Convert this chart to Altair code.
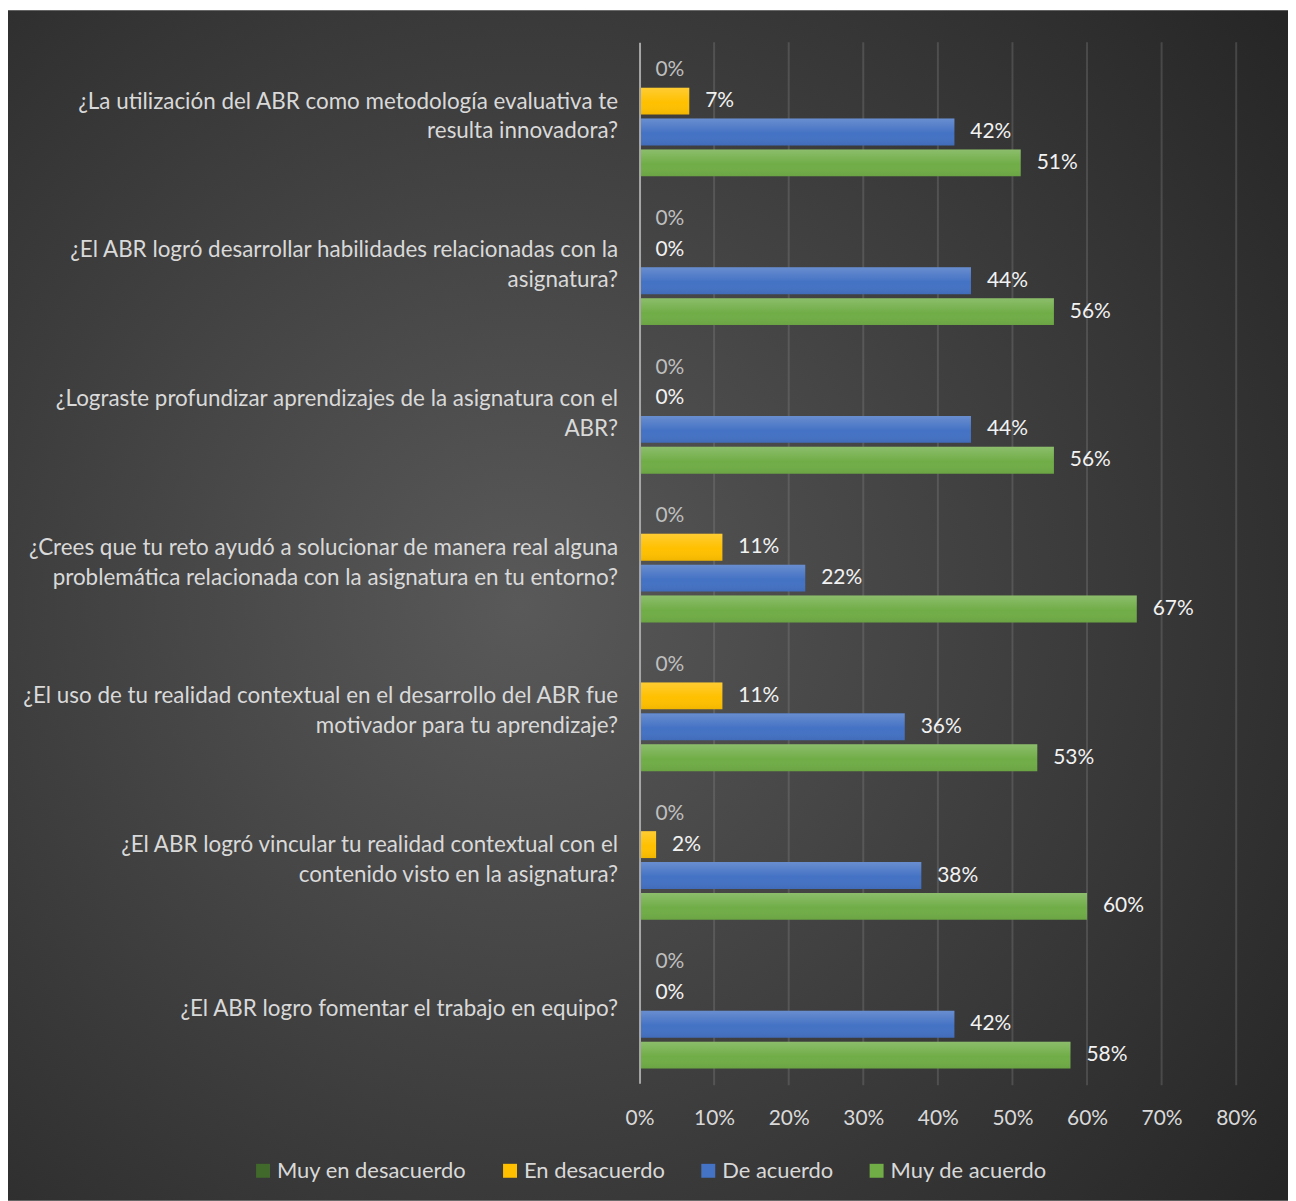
import altair as alt
import pandas as pd

questions = [
    "¿La utilización del ABR como metodología evaluativa te|resulta innovadora?",
    "¿El ABR logró desarrollar habilidades relacionadas con la|asignatura?",
    "¿Lograste profundizar aprendizajes de la asignatura con el|ABR?",
    "¿Crees que tu reto ayudó a solucionar de manera real alguna|problemática relacionada con la asignatura en tu entorno?",
    "¿El uso de tu realidad contextual en el desarrollo del ABR fue|motivador para tu aprendizaje?",
    "¿El ABR logró vincular tu realidad contextual con el|contenido visto en la asignatura?",
    "¿El ABR logro fomentar el trabajo en equipo?",
]
series = ["Muy en desacuerdo", "En desacuerdo", "De acuerdo", "Muy de acuerdo"]
colors = ["#41692B", "#FFC000", "#4472C4", "#70AD47"]

muy_en_desacuerdo = [0.0, 0.0, 0.0, 0.0, 0.0, 0.0, 0.0]
en_desacuerdo = [0.0667, 0.0, 0.0, 0.1111, 0.1111, 0.0222, 0.0]
de_acuerdo = [0.4222, 0.4444, 0.4444, 0.2222, 0.3556, 0.3778, 0.4222]
muy_de_acuerdo = [0.5111, 0.5556, 0.5556, 0.6667, 0.5333, 0.6000, 0.5778]
x_ticks = [0, 0.1, 0.2, 0.3, 0.4, 0.5, 0.6, 0.7, 0.8]

rows = []
for s, vals in zip(series, [muy_en_desacuerdo, en_desacuerdo, de_acuerdo, muy_de_acuerdo]):
    for q, v in zip(questions, vals):
        rows.append({"pregunta": q, "serie": s, "valor": v})
df = pd.DataFrame(rows)
grid_df = pd.DataFrame({"tick": x_ticks[1:]})

FONT = "Lato"
W, H = 599, 1045

y_enc = alt.Y("pregunta:N", sort=questions, title=None,
              scale=alt.Scale(paddingInner=0.196, paddingOuter=0.098),
              axis=alt.Axis(labelExpr="split(datum.label, '|')", labelLineHeight=30,
                            labelFontSize=22.5, labelColor="#d9d9d9", labelPadding=22,
                            labelLimit=0, ticks=False, domain=True, domainColor="#a6a6a6",
                            domainWidth=2, grid=False, labelFont=FONT, labelAlign="right",
                            labelBaseline="middle", zindex=1,
                            labelOffset={"condition": {"test": "indexof(datum.value, '|') >= 0", "value": -15},
                                         "value": 0}))
x_enc = alt.X("valor:Q", title=None,
              scale=alt.Scale(domain=[0, 0.8], nice=False),
              axis=alt.Axis(values=x_ticks, format=".0%", labelFontSize=21,
                            labelColor="#d9d9d9", labelPadding=25, ticks=False, domain=False,
                            grid=False, labelFont=FONT, zindex=1, labelFlush=False))
yoff = alt.YOffset("serie:N", sort=series, scale=alt.Scale(paddingInner=0.13, paddingOuter=0))

bg = alt.Chart(pd.DataFrame({"a": [0]})).mark_rect(
    fill=alt.RadialGradient(
        gradient="radial", x1=0.4, y1=0.5, x2=0.4, y2=0.5, r1=0, r2=0.75,
        stops=[alt.GradientStop(color="#595959", offset=0),
               alt.GradientStop(color="#262626", offset=1)]),
).encode(x=alt.value(-634), x2=alt.value(651), y=alt.value(-32), y2=alt.value(1163))

grid = alt.Chart(grid_df).mark_rule(color="#8c8c8c", opacity=0.3, strokeWidth=2).encode(
    x=alt.X("tick:Q"), y=alt.value(0), y2=alt.value(H + 2)
)

bars = alt.Chart(df).mark_bar(size=27).encode(
    x=x_enc, y=y_enc, yOffset=yoff,
    color=alt.Color("serie:N", sort=series,
                    scale=alt.Scale(domain=series, range=colors),
                    legend=alt.Legend(title=None, orient="none", legendX=-389, legendY=1122,
                                      direction="horizontal", symbolType="square",
                                      symbolSize=196, symbolStrokeWidth=0,
                                      labelFontSize=22, labelColor="#d9d9d9", labelFont=FONT,
                                      columnPadding=32, labelOffset=3, padding=0,
                                      labelLimit=0)),
)

gloss = alt.Chart(df).mark_bar(
    fill=alt.LinearGradient(
        gradient="linear", x1=0, y1=0, x2=0, y2=1,
        stops=[alt.GradientStop(color="rgba(255,255,255,0.2)", offset=0),
               alt.GradientStop(color="rgba(255,255,255,0)", offset=0.55),
               alt.GradientStop(color="rgba(0,0,0,0.06)", offset=1)]),
).encode(x="valor:Q", y=alt.Y("pregunta:N", sort=questions), yOffset=alt.YOffset("serie:N", sort=series))

labels = alt.Chart(df).mark_text(align="left", baseline="middle", dx=16, fontSize=21, font=FONT).encode(
    x="valor:Q", y=alt.Y("pregunta:N", sort=questions),
    yOffset=alt.YOffset("serie:N", sort=series),
    text=alt.Text("valor:Q", format=".0%"),
    color=alt.condition(alt.datum.serie == "Muy en desacuerdo", alt.value("#bfbfbf"), alt.value("#f2f2f2")),
)

chart = alt.layer(bg, grid, bars, gloss, labels).properties(
    width=W, height=H, padding=0, background="white"
).configure_view(stroke=None)

chart.save("out.html", embed_options={"renderer": "svg", "actions": False})
